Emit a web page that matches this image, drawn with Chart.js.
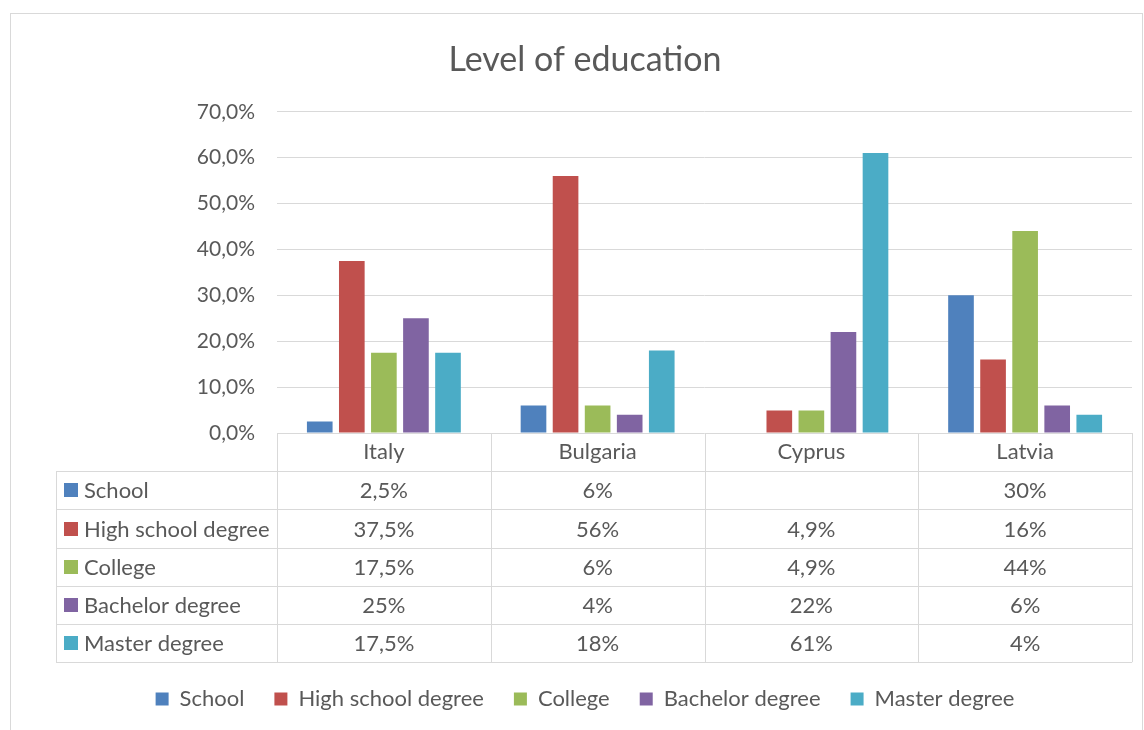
<!DOCTYPE html>
<html>
<head>
<meta charset="utf-8">
<script src="https://cdn.jsdelivr.net/npm/chart.js@4.4.0/dist/chart.umd.min.js"></script>
<style>
  html, body { margin: 0; padding: 0; background: #fff; overflow: hidden; }
  #frame { position: absolute; left: 10px; top: 13px; width: 1133px; height: 760px; border: 1px solid #d9d9d9; box-sizing: border-box; }
  #chart { position: absolute; left: 0; top: 0; }
</style>
</head>
<body>
<div id="frame"></div>
<canvas id="chart" width="1144" height="730"></canvas>
<script>
// data
const categories = ["Italy", "Bulgaria", "Cyprus", "Latvia"];
const seriesNames = ["School", "High school degree", "College", "Bachelor degree", "Master degree"];
const school = [2.5, 6, null, 30];
const highSchool = [37.5, 56, 4.9, 16];
const college = [17.5, 6, 4.9, 44];
const bachelor = [25, 4, 22, 6];
const master = [17.5, 18, 61, 4];
const yMin = 0, yMax = 70, yStep = 10;

const colors = ["#4f81bd", "#c0504d", "#9bbb59", "#8064a2", "#4bacc6"];
const allSeries = [school, highSchool, college, bachelor, master];
const textColor = "#595959";
const gridColor = "#d9d9d9";
const fontFamily = "Lato, 'Open Sans', sans-serif";

function pct(v) {
  if (v === null || v === undefined) return "";
  return (Number.isInteger(v) ? String(v) : v.toFixed(1).replace(".", ",")) + "%";
}

// draws the data table under the x axis, lined up with the category scale
const dataTable = {
  id: "dataTable",
  afterDraw(chart) {
    const ctx = chart.ctx;
    const x = chart.scales.x;
    const top = chart.chartArea.bottom;
    const rowH = 38.2;
    const left = 56;
    const colW = (x.right - x.left) / categories.length;
    const bottom = top + rowH * (seriesNames.length + 1);
    const crisp = v => Math.round(v) + 0.5;

    ctx.save();
    ctx.strokeStyle = gridColor;
    ctx.lineWidth = 1;
    ctx.beginPath();
    for (let i = 0; i <= categories.length; i++) {
      const px = crisp(x.left + i * colW);
      ctx.moveTo(px, top);
      ctx.lineTo(px, bottom);
    }
    ctx.moveTo(crisp(left), crisp(top + rowH));
    ctx.lineTo(crisp(left), crisp(bottom));
    for (let r = 1; r <= seriesNames.length + 1; r++) {
      const py = crisp(top + r * rowH);
      ctx.moveTo(left, py);
      ctx.lineTo(x.right, py);
    }
    ctx.stroke();

    ctx.font = "22px " + fontFamily;
    ctx.textBaseline = "middle";
    seriesNames.forEach((name, r) => {
      const cy = top + (r + 1.5) * rowH;
      ctx.fillStyle = colors[r];
      ctx.fillRect(64, Math.round(cy - 7), 14, 14);
      ctx.fillStyle = textColor;
      ctx.textAlign = "left";
      ctx.fillText(name, 84, cy + 1);
      ctx.textAlign = "center";
      allSeries[r].forEach((v, c) => {
        ctx.fillText(pct(v), x.getPixelForValue(c), cy + 1);
      });
    });
    ctx.restore();
  }
};

const ctx = document.getElementById("chart").getContext("2d");
const myChart = new Chart(ctx, {
  type: "bar",
  data: {
    labels: categories,
    datasets: seriesNames.map((name, i) => ({
      label: name,
      data: allSeries[i],
      backgroundColor: colors[i],
      borderWidth: 0,
      categoryPercentage: 0.75,
      barPercentage: 0.8
    }))
  },
  options: {
    responsive: false,
    animation: false,
    layout: { padding: { left: 38, right: 12, top: 0, bottom: 10 } },
    plugins: {
      title: {
        display: true,
        text: "Level of education",
        color: textColor,
        font: { family: fontFamily, size: 34, weight: "normal" },
        padding: { top: 40, bottom: 31 }
      },
      legend: {
        position: "bottom",
        labels: {
          color: textColor,
          font: { family: fontFamily, size: 22 },
          boxWidth: 13,
          boxHeight: 13,
          padding: 30
        }
      },
      tooltip: { enabled: false }
    },
    scales: {
      x: {
        grid: { display: false, drawTicks: false },
        border: { display: false },
        ticks: { color: textColor, font: { family: fontFamily, size: 22 }, padding: 6 },
        afterFit(scale) { scale.height = 225; }
      },
      y: {
        min: yMin,
        max: yMax,
        grid: { color: gridColor, drawTicks: false },
        border: { display: false },
        ticks: {
          stepSize: yStep,
          color: textColor,
          font: { family: fontFamily, size: 21 },
          padding: 22,
          callback: v => v.toFixed(1).replace(".", ",") + "%"
        },
        afterFit(scale) { scale.width = 239; }
      }
    }
  },
  plugins: [dataTable]
});
</script>
</body>
</html>
